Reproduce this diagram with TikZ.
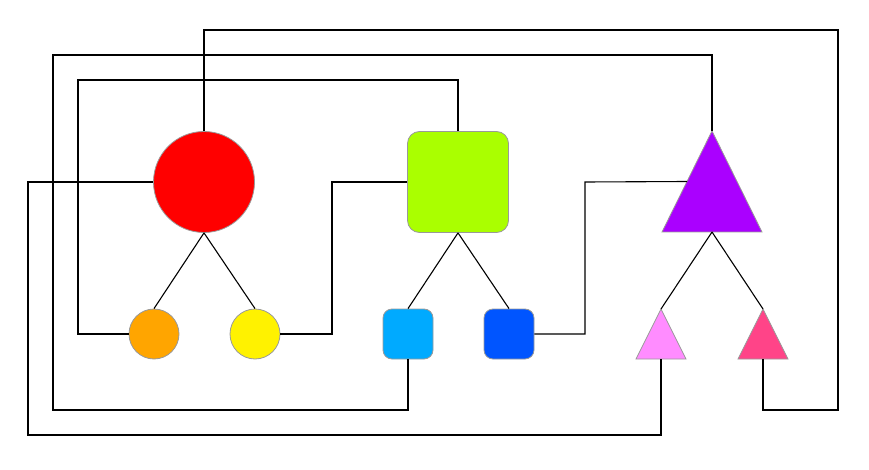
\documentclass[tikz,border=0pt]{standalone}
\usetikzlibrary{calc}
\begin{document}
\begin{tikzpicture}[x=1pt,y=-1pt,
  shapeborder/.style={draw=gray!80, line width=0.8pt},
  bigcirc/.style={shapeborder, circle, minimum size=101pt, inner sep=0pt},
  smallcirc/.style={shapeborder, circle, minimum size=50pt, inner sep=0pt},
  bigsq/.style={shapeborder, rectangle, rounded corners=12pt, minimum size=101pt, inner sep=0pt},
  smallsq/.style={shapeborder, rectangle, rounded corners=9pt, minimum size=50pt, inner sep=0pt},
  conn/.style={draw=black, line width=1.1pt}]
\useasboundingbox (0,0) rectangle (869,470);
\definecolor{cgreen}{HTML}{AAFF00}
\definecolor{cpurple}{HTML}{AA00FF}
\definecolor{corange}{HTML}{FFA500}
\definecolor{clblue}{HTML}{00AAFF}
\definecolor{cdblue}{HTML}{0055FF}
\definecolor{cpink}{HTML}{FF8CFF}
\definecolor{cmag}{HTML}{FF4488}

% circles
\node[bigcirc, fill=red] (R) at (204,182) {};
\node[smallcirc, fill=corange] (O) at (154,334) {};
\node[smallcirc, fill=yellow] (Y) at (255,334) {};
% squares
\node[bigsq, fill=cgreen] (G) at (458,182) {};
\node[smallsq, fill=clblue] (LB) at (408,334) {};
\node[smallsq, fill=cdblue] (DB) at (509,334) {};
% triangles
\coordinate (Pa) at (712,131);
\coordinate (Pl) at (662,232);
\coordinate (Pr) at (762,232);
\coordinate (Pb) at (712,232);
\coordinate (Pe) at ($(Pa)!0.5!(Pl)$);
\filldraw[shapeborder, fill=cpurple] (Pa) -- (Pr) -- (Pl) -- cycle;
\coordinate (Ka) at (661,309);
\coordinate (Kl) at (636,359);
\coordinate (Kr) at (686,359);
\coordinate (Kb) at (661,359);
\filldraw[shapeborder, fill=cpink] (Ka) -- (Kr) -- (Kl) -- cycle;
\coordinate (Ma) at (763,309);
\coordinate (Ml) at (738,359);
\coordinate (Mr) at (788,359);
\coordinate (Mb) at (763,359);
\filldraw[shapeborder, fill=cmag] (Ma) -- (Mr) -- (Ml) -- cycle;

% tree edges
\draw[conn] (R.south) -- (O.north);
\draw[conn] (R.south) -- (Y.north);
\draw[conn] (G.south) -- (LB.north);
\draw[conn] (G.south) -- (DB.north);
\draw[conn] (Pb) -- (Ka);
\draw[conn] (Pb) -- (Ma);

% long connectors
\draw[conn] (R.north) -- (204,30) -- (838,30) -- (838,410) -- (763,410) -- (Mb);
\draw[conn] (Pa) -- (712,55) -- (53,55) -- (53,410) -- (408,410) -- (LB.south);
\draw[conn] (G.north) -- (458,80) -- (78,80) -- (78,334) -- (O.west);
\draw[conn] (R.west) -- (28,182) -- (28,435) -- (661,435) -- (Kb);
\draw[conn] (Y.east) -- (332,334) -- (332,182) -- (G.west);
\draw[conn] (DB.east) -- (585,334) -- (585,182) -- (Pe);
\end{tikzpicture}
\end{document}
